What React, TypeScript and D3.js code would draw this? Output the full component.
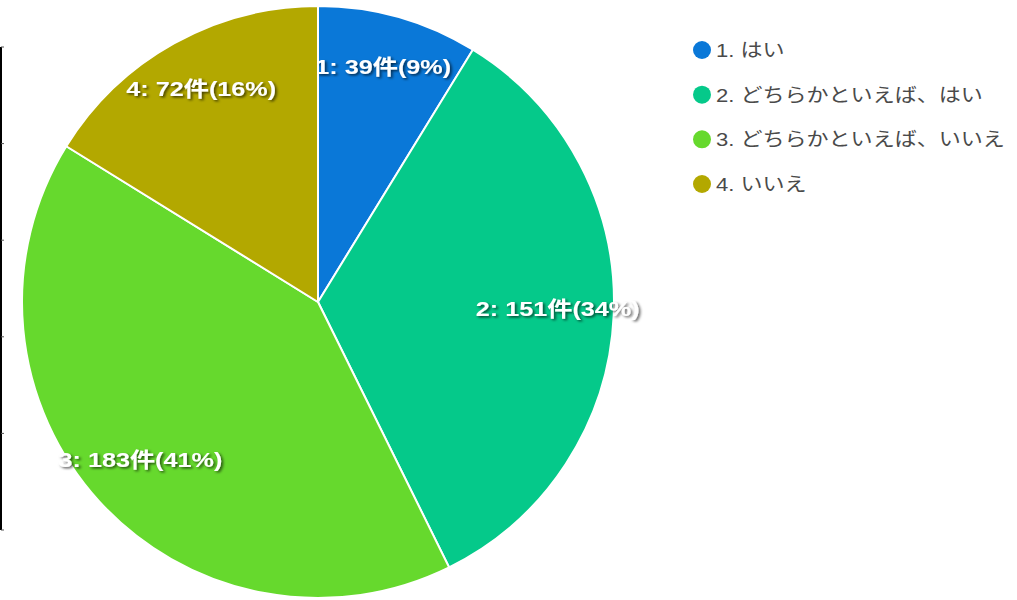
import * as d3 from "d3";

const labels = ["1. はい", "2. どちらかといえば、はい", "3. どちらかといえば、いいえ", "4. いいえ"];
const counts = [39, 151, 183, 72];
const percents = [9, 34, 41, 16];
const colors = ["#0a78d8", "#05c98a", "#66d92d", "#b3a800"];

const W = 1017;
const H = 600;
const cx = 318;
const cy = 302;
const R = 296;

export default function App() {
  const pie = d3.pie<number>().sort(null).value((d) => d);
  const arcs = pie(counts);
  const arc = d3.arc<d3.PieArcDatum<number>>().innerRadius(0).outerRadius(R);
  const labelArc = d3.arc<d3.PieArcDatum<number>>().innerRadius(240).outerRadius(240);

  // left edge rule with small ticks
  const axisY = d3.scaleLinear().domain([0, 5]).range([47, 530]);

  const legendY = d3.scalePoint<string>().domain(labels).range([50, 184]);

  return (
    <div style={{ position: "absolute", left: 0, top: 0 }}>
      <svg width={W} height={H} style={{ display: "block", background: "#fff" }}>
        <defs>
          <filter id="shadow" x="-10%" y="-30%" width="130%" height="170%">
            <feDropShadow dx={1.5} dy={1.5} stdDeviation={1.2} floodColor="#000" floodOpacity={0.65} />
          </filter>
        </defs>

        <line x1={1} x2={1} y1={axisY(0)} y2={axisY(5)} stroke="#000" strokeWidth={2} />
        {d3.range(6).map((i) => (
          <line key={i} x1={1} x2={4} y1={axisY(i)} y2={axisY(i)} stroke="#555" strokeWidth={1} />
        ))}

        <g transform={`translate(${cx},${cy})`}>
          {arcs.map((a, i) => {
            const [lx, ly] = labelArc.centroid(a);
            return (
              <g key={i}>
                <path d={arc(a) ?? ""} fill={colors[i]} stroke="#fff" strokeWidth={2} />
                <g transform={`translate(${lx},${ly - 4}) scale(1.2,1)`}>
                  <text
                    textAnchor="middle"
                    dominantBaseline="central"
                    fill="#fff"
                    fontSize={21}
                    fontWeight="bold"
                    fontFamily="'Liberation Sans', Arial, 'Noto Sans CJK JP', sans-serif"
                    filter="url(#shadow)"
                  >
                    {`${i + 1}: ${counts[i]}件(${percents[i]}%)`}
                  </text>
                </g>
              </g>
            );
          })}
        </g>

        <g>
          {labels.map((l, i) => (
            <g key={l} transform={`translate(0,${legendY(l)})`}>
              <circle cx={702} cy={0} r={9} fill={colors[i]} />
              <g transform="translate(716,0) scale(1.16,1)">
                <text
                  dominantBaseline="central"
                  fill="#4a4a4a"
                  fontSize={19}
                  fontFamily="'Liberation Sans', Arial, 'Noto Sans CJK JP', sans-serif"
                >
                  {l}
                </text>
              </g>
            </g>
          ))}
        </g>
      </svg>
    </div>
  );
}
